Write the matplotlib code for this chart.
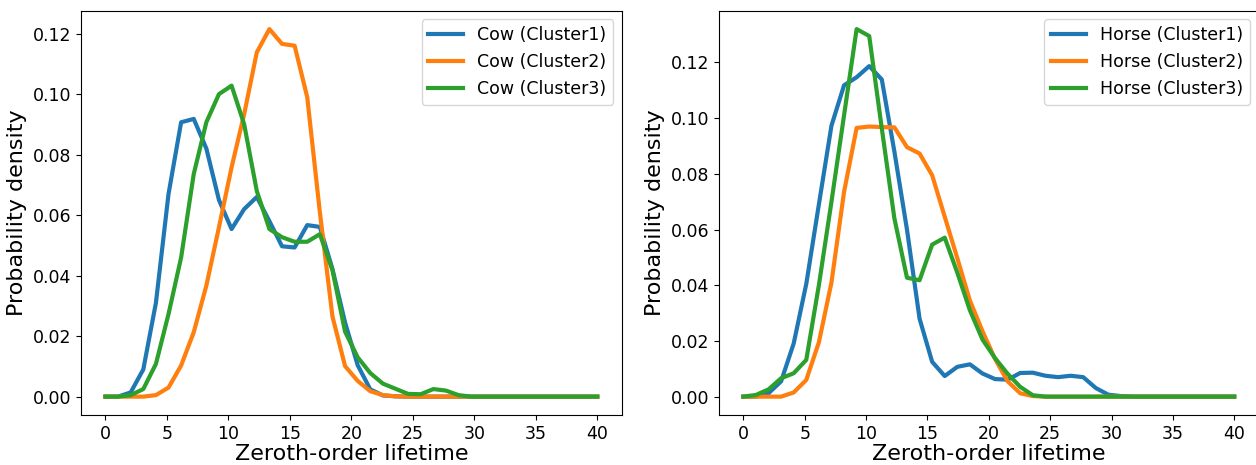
import numpy as np
import matplotlib
matplotlib.use('Agg')
import matplotlib.pyplot as plt

# lifetime grid (40 points from 0 to 40)
lifetime = np.linspace(0, 40, 40)

# Cow clusters
cow_c1 = [0, 0, 0.0014, 0.009, 0.031, 0.067, 0.0907, 0.0918, 0.082, 0.065,
          0.0554, 0.062, 0.066, 0.058, 0.0497, 0.0493, 0.0567, 0.0561, 0.0422, 0.0245,
          0.0104, 0.0024, 0.0004, 0.0001] + [0] * 16
cow_c2 = [0, 0, 0, 0, 0.0005, 0.003, 0.0103, 0.0213, 0.0367, 0.056,
          0.0758, 0.0934, 0.1138, 0.1215, 0.1166, 0.116, 0.099, 0.061, 0.0265, 0.0101,
          0.0052, 0.0018, 0.0005, 0.0001] + [0] * 16
cow_c3 = [0, 0, 0.0005, 0.0025, 0.0108, 0.0273, 0.046, 0.0736, 0.0907, 0.100,
          0.1028, 0.090, 0.068, 0.0554, 0.0527, 0.0512, 0.0512, 0.0537, 0.0418, 0.0215,
          0.013, 0.0078, 0.0043, 0.0026, 0.0009, 0.0008, 0.0025, 0.002, 0.0005] + [0] * 11

# Horse clusters
horse_c1 = [0, 0, 0.0012, 0.0055, 0.0191, 0.0405, 0.069, 0.0973, 0.1118, 0.1147,
            0.1187, 0.1139, 0.088, 0.060, 0.028, 0.0125, 0.0074, 0.0107, 0.0116, 0.0083,
            0.0063, 0.0061, 0.0085, 0.0086, 0.0075, 0.007, 0.0075, 0.007, 0.0031, 0.0007,
            0.0002] + [0] * 9
horse_c2 = [0, 0, 0, 0, 0.0015, 0.006, 0.0195, 0.041, 0.0735, 0.0965,
            0.097, 0.0968, 0.0967, 0.0896, 0.0873, 0.0795, 0.0646, 0.0497, 0.0345, 0.0235,
            0.0135, 0.0055, 0.0012, 0.0002] + [0] * 16
horse_c3 = [0, 0.0006, 0.0026, 0.0066, 0.0084, 0.0132, 0.040, 0.070, 0.101, 0.132,
            0.1295, 0.0963, 0.064, 0.0427, 0.0418, 0.0546, 0.0571, 0.0445, 0.031, 0.0205,
            0.0138, 0.0082, 0.0035, 0.0005] + [0] * 16

panels = [
    ('Cow', [cow_c1, cow_c2, cow_c3]),
    ('Horse', [horse_c1, horse_c2, horse_c3]),
]

fig = plt.figure(figsize=(12.56, 4.65), dpi=100)
axes = [fig.add_axes([0.0644, 0.1075, 0.4307, 0.8695]),
        fig.add_axes([0.5723, 0.1075, 0.4299, 0.8695])]

for ax, (animal, series) in zip(axes, panels):
    for k, vals in enumerate(series):
        ax.plot(lifetime, vals, lw=3, label='%s (Cluster%d)' % (animal, k + 1))
    ax.set_xlabel('Zeroth-order lifetime', fontsize=16, labelpad=1)
    ax.set_ylabel('Probability density', fontsize=16)
    ax.set_xticks([0, 5, 10, 15, 20, 25, 30, 35, 40])
    ax.tick_params(labelsize=12.5)
    ax.legend(fontsize=12.5, loc='upper right')

fig.savefig('out.png', dpi=100)
